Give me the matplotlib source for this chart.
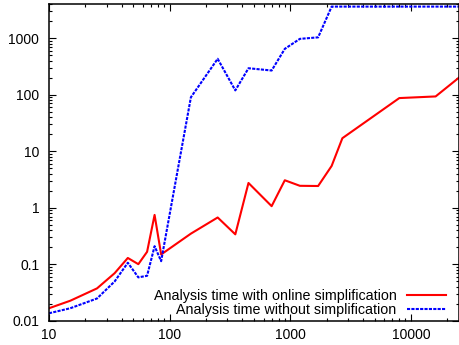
import matplotlib
matplotlib.use('Agg')
import matplotlib.pyplot as plt
from matplotlib.ticker import LogLocator, NullFormatter

plt.rcParams['font.family'] = ['Liberation Sans', 'DejaVu Sans']

# problem size vs analysis time (s)
with_x = [10, 15, 25, 35, 45, 55, 65, 75, 85, 150, 250, 350, 450, 700,
          900, 1200, 1700, 2200, 2700, 8000, 16000, 25000]
with_y = [0.0168, 0.0228, 0.0377, 0.07, 0.13, 0.101, 0.167, 0.75, 0.15,
          0.35, 0.675, 0.34, 2.75, 1.07, 3.07, 2.45, 2.43, 5.5, 17, 87, 93, 200]

without_x = [10, 15, 25, 35, 45, 55, 65, 75, 85, 150, 250, 350, 450, 700,
             900, 1200, 1700, 2200, 25000]
without_y = [0.0137, 0.0168, 0.025, 0.05, 0.107, 0.059, 0.063, 0.21, 0.114,
             90, 430, 119, 293, 267, 645, 968, 1030, 3600, 3600]

xticks = [10, 100, 1000, 10000]
xtick_labels = ['10', '100', '1000', '10000']
yticks = [0.01, 0.1, 1, 10, 100, 1000]
ytick_labels = ['0.01', '0.1', '1', '10', '100', '1000']

fig = plt.figure(figsize=(4.6, 3.45), dpi=100)
ax = fig.add_axes([49/460, 1 - 321/345, 410/460, 317/345])

ax.plot(with_x, with_y, color='#ff0000', lw=1.5,
        label='Analysis time with online simplification')
ax.plot(without_x, without_y, color='#0000ff', lw=1.5, ls=(0, (1.5, 0.6)),
        label='Analysis time without simplification')

ax.set_xscale('log')
ax.set_yscale('log')
ax.set_xlim(10, 25000)
ax.set_ylim(0.01, 4000)

ax.set_xticks(xticks, xtick_labels)
ax.set_yticks(yticks, ytick_labels)
ax.xaxis.set_minor_locator(LogLocator(base=10, subs=range(2, 10), numticks=20))
ax.yaxis.set_minor_locator(LogLocator(base=10, subs=range(2, 10), numticks=20))
ax.xaxis.set_minor_formatter(NullFormatter())
ax.yaxis.set_minor_formatter(NullFormatter())

ax.tick_params(which='both', direction='in', top=True, right=True,
               labelsize=10, colors='black', width=0.8)
ax.tick_params(which='major', length=5)
ax.tick_params(which='minor', length=2.5)
ax.tick_params(axis='y', pad=7)
ax.tick_params(axis='x', pad=5)
for s in ax.spines.values():
    s.set_linewidth(1.1)

ax.legend(loc='lower right', bbox_to_anchor=(0.968, 0.012), frameon=False,
          markerfirst=False, fontsize=10.3, borderpad=0, borderaxespad=0,
          handlelength=2.75, handletextpad=0.7, labelspacing=0.0)

fig.savefig('out.png', dpi=100)
